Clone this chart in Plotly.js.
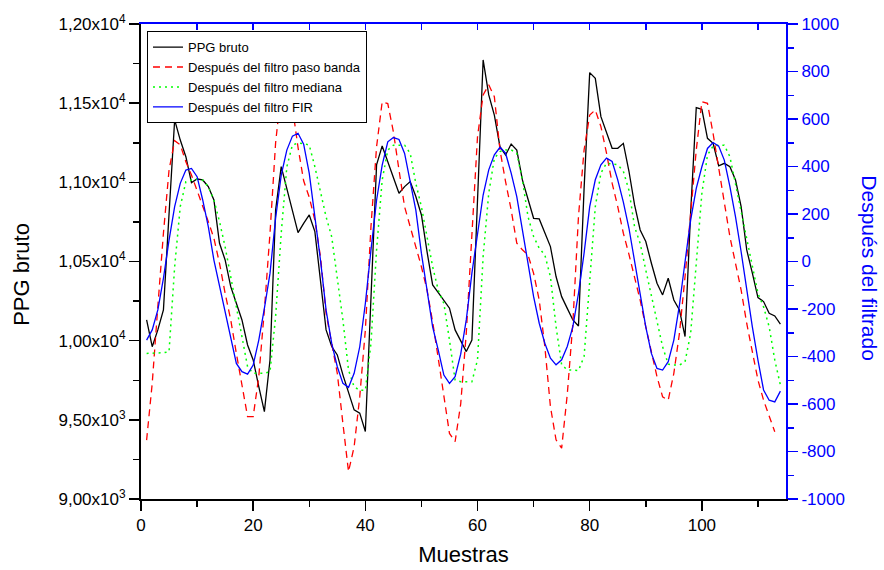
<!DOCTYPE html>
<html>
<head>
<meta charset="utf-8">
<script src="https://cdn.plot.ly/plotly-3.0.1.min.js"></script>
<style>html,body{margin:0;padding:0;background:#fff;}#chart{width:884px;height:570px;}</style>
</head>
<body>
<div id="chart"></div>
<script>
// Raw PPG signal (left axis)
const ppgBruto = [10131, 9962, 10068, 10194, 10800, 11394, 11267, 11162, 10998, 11021,
  11015, 10973, 10889, 10615, 10510, 10341, 10236, 10131, 9973, 9878,
  9710, 9552, 9878, 10825, 11099, 10962, 10825, 10682, 10741, 10794,
  10689, 10362, 10068, 9963, 9910, 9784, 9668, 9563, 9542, 9426,
  10268, 11110, 11230, 11131, 11026, 10931, 10973, 11005, 10910, 10794,
  10562, 10352, 10304, 10253, 10205, 10068, 10004, 9931, 10004, 10916,
  11773, 11552, 11425, 11225, 11173, 11242, 11204, 11015, 10889, 10773,
  10769, 10678, 10594, 10405, 10278, 10204, 10131, 10093, 10962, 11693,
  11657, 11415, 11320, 11215, 11215, 11246, 11070, 10857, 10699, 10626,
  10489, 10363, 10289, 10394, 10257, 10194, 10026, 10811, 11472, 11461,
  11278, 11247, 11104, 11120, 11099, 11015, 10847, 10573, 10426, 10272,
  10247, 10173, 10156, 10104];

// Band-pass filtered (right axis)
const pasoBanda = [-752, -513, -190, 119, 385, 509, 491, 420, 364, 301,
  231, 168, 98, -8, -134, -246, -387, -527, -653, -653,
  -485, -204, 119, 500, 720, 760, 650, 480, 340, 270,
  174, 20, -219, -345, -471, -682, -885, -780, -570, -289,
  146, 483, 672, 665, 546, 385, 230, 146, 62, -22,
  -120, -254, -408, -570, -724, -759, -600, -300, 91, 526,
  701, 744, 694, 470, 336, 217, 77, 49, 28, -50,
  -162, -358, -611, -751, -786, -560, -260, 190, 470, 617,
  638, 568, 456, 330, 231, 119, 30, -64, -163, -275,
  -387, -485, -570, -584, -471, -303, -64, 188, 469, 673,
  666, 539, 399, 245, 104, -8, -120, -261, -387, -499,
  -584, -647, -717];

// Median filtered (right axis)
const mediana = [-387, -387, -387, -384, -380, -22, 231, 336, 343, 347,
  343, 315, 259, 168, 62, -64, -204, -331, -443, -471,
  -471, -471, -464, -232, 119, 399, 491, 498, 497, 490,
  399, 286, 188, 104, -64, -247, -457, -528, -542, -542,
  -345, 48, 343, 469, 490, 490, 490, 455, 329, 230,
  104, -22, -121, -177, -331, -499, -506, -506, -506, -414,
  21, 287, 435, 463, 470, 470, 456, 344, 189, 105,
  56, 28, -64, -274, -435, -456, -459, -459, -400, -92,
  231, 372, 414, 411, 407, 380, 300, 146, 76, -36,
  -148, -247, -359, -432, -436, -436, -422, -303, 6, 287,
  448, 486, 490, 490, 441, 329, 216, 104, -22, -134,
  -191, -275, -415, -520];

// FIR filtered (right axis)
const fir = [-331, -288, -204, -71, 90, 231, 329, 385, 392, 357,
  259, 147, 6, -106, -218, -331, -429, -464, -474, -436,
  -331, -197, -50, 182, 364, 469, 528, 540, 494, 371,
  188, 6, -205, -345, -443, -513, -530, -471, -359, -177,
  48, 258, 406, 504, 522, 514, 455, 343, 216, 34,
  -121, -275, -373, -478, -513, -485, -390, -245, -49, 119,
  280, 386, 449, 481, 456, 372, 273, 133, -7, -148,
  -260, -344, -407, -435, -414, -358, -274, -134, 35, 231,
  344, 407, 435, 421, 344, 250, 140, 6, -134, -275,
  -387, -450, -457, -422, -331, -184, -1, 174, 308, 399,
  476, 501, 486, 427, 315, 188, 41, -120, -275, -415,
  -541, -584, -591, -546];

// Tick labels of the left axis
const leftTickVals = [9000, 9500, 10000, 10500, 11000, 11500, 12000];
const leftTickText = ['9,00x10<sup>3</sup>', '9,50x10<sup>3</sup>', '1,00x10<sup>4</sup>',
  '1,05x10<sup>4</sup>', '1,10x10<sup>4</sup>', '1,15x10<sup>4</sup>', '1,20x10<sup>4</sup>'];

// Tick labels of the right axis (plain hyphen minus, as in the reference)
const rightTickVals = [-1000, -800, -600, -400, -200, 0, 200, 400, 600, 800, 1000];
const rightTickText = ['-1000', '-800', '-600', '-400', '-200', '0', '200', '400', '600', '800', '1000'];

const seriesNames = ['PPG bruto', 'Después del filtro paso banda', 'Después del filtro mediana', 'Después del filtro FIR'];

const idx = arr => arr.map((_, i) => i + 1);

const FONT = 'Arial, "Liberation Sans", sans-serif';

const traces = [
  {x: idx(ppgBruto), y: ppgBruto, name: seriesNames[0], type: 'scatter', mode: 'lines',
   line: {color: '#000000', width: 1.3}, xaxis: 'x', yaxis: 'y'},
  {x: idx(pasoBanda), y: pasoBanda, name: seriesNames[1], type: 'scatter', mode: 'lines',
   line: {color: '#ff0000', width: 1.3, dash: '7px,5px'}, xaxis: 'x', yaxis: 'y2'},
  {x: idx(mediana), y: mediana, name: seriesNames[2], type: 'scatter', mode: 'lines',
   line: {color: '#00ff00', width: 1.5, dash: '2px,4px'}, xaxis: 'x', yaxis: 'y2'},
  {x: idx(fir), y: fir, name: seriesNames[3], type: 'scatter', mode: 'lines',
   line: {color: '#0000ff', width: 1.3}, xaxis: 'x', yaxis: 'y2'},
  {x: [], y: [], xaxis: 'x2', yaxis: 'y', showlegend: false, hoverinfo: 'skip', type: 'scatter', mode: 'lines'}
];

const layout = {
  width: 884, height: 570,
  margin: {l: 141, r: 98, t: 24, b: 71, pad: 0},
  paper_bgcolor: '#ffffff', plot_bgcolor: '#ffffff',
  font: {family: FONT, size: 17, color: '#000000'},
  showlegend: true,
  legend: {x: 0.0093, y: 0.985, xanchor: 'left', yanchor: 'top', bgcolor: '#ffffff',
    bordercolor: '#000000', borderwidth: 1, font: {family: FONT, size: 13, color: '#000000'},
    tracegroupgap: 0},
  xaxis: {range: [0, 115], tick0: 0, dtick: 20, ticks: 'outside', ticklen: 10, tickwidth: 1.5,
    tickcolor: '#000000', showline: true, linecolor: '#000000', linewidth: 2,
    showgrid: false, zeroline: false, tickfont: {family: FONT, size: 17, color: '#000000'},
    minor: {tick0: 0, dtick: 10, ticks: 'outside', ticklen: 6, tickwidth: 1.5, tickcolor: '#000000'},
    title: {text: 'Muestras', font: {family: FONT, size: 22, color: '#000000'}, standoff: 12}},
  xaxis2: {overlaying: 'x', side: 'top', anchor: 'y', range: [0, 115], tick0: 0, dtick: 10,
    ticks: 'inside', ticklen: 6, tickwidth: 1.5, tickcolor: '#0000ff', showline: true,
    linecolor: '#0000ff', linewidth: 2, showticklabels: false, showgrid: false, zeroline: false},
  yaxis: {range: [9000, 12000], tickmode: 'array', tickvals: leftTickVals, ticktext: leftTickText,
    ticks: 'outside', ticklen: 10, tickwidth: 1.5, tickcolor: '#000000', showline: true,
    linecolor: '#000000', linewidth: 2, showgrid: false, zeroline: false,
    tickfont: {family: FONT, size: 17, color: '#000000'},
    minor: {tickmode: 'linear', tick0: 9000, dtick: 250, ticks: 'outside', ticklen: 6, tickwidth: 1.5, tickcolor: '#000000'}},
  yaxis2: {overlaying: 'y', side: 'right', anchor: 'x', range: [-1000, 1000],
    tickmode: 'array', tickvals: rightTickVals, ticktext: rightTickText,
    ticks: 'outside', ticklen: 10, tickwidth: 1.5, tickcolor: '#0000ff', showline: true,
    linecolor: '#0000ff', linewidth: 2, showgrid: false, zeroline: false,
    tickfont: {family: FONT, size: 17, color: '#0000ff'},
    minor: {tickmode: 'linear', tick0: -1000, dtick: 100, ticks: 'outside', ticklen: 6, tickwidth: 1.5, tickcolor: '#0000ff'}},
  annotations: [
    {text: 'PPG bruto', xref: 'paper', yref: 'paper', x: -0.1845, y: 0.474, textangle: -90,
     showarrow: false, xanchor: 'center', yanchor: 'middle', font: {family: FONT, size: 22, color: '#000000'}},
    {text: 'Después del filtrado', xref: 'paper', yref: 'paper', x: 1.13, y: 0.486, textangle: 90,
     showarrow: false, xanchor: 'center', yanchor: 'middle', font: {family: FONT, size: 21, color: '#0000ff'}}
  ]
};

Plotly.newPlot('chart', traces, layout, {displayModeBar: false, staticPlot: true});
</script>
</body>
</html>
